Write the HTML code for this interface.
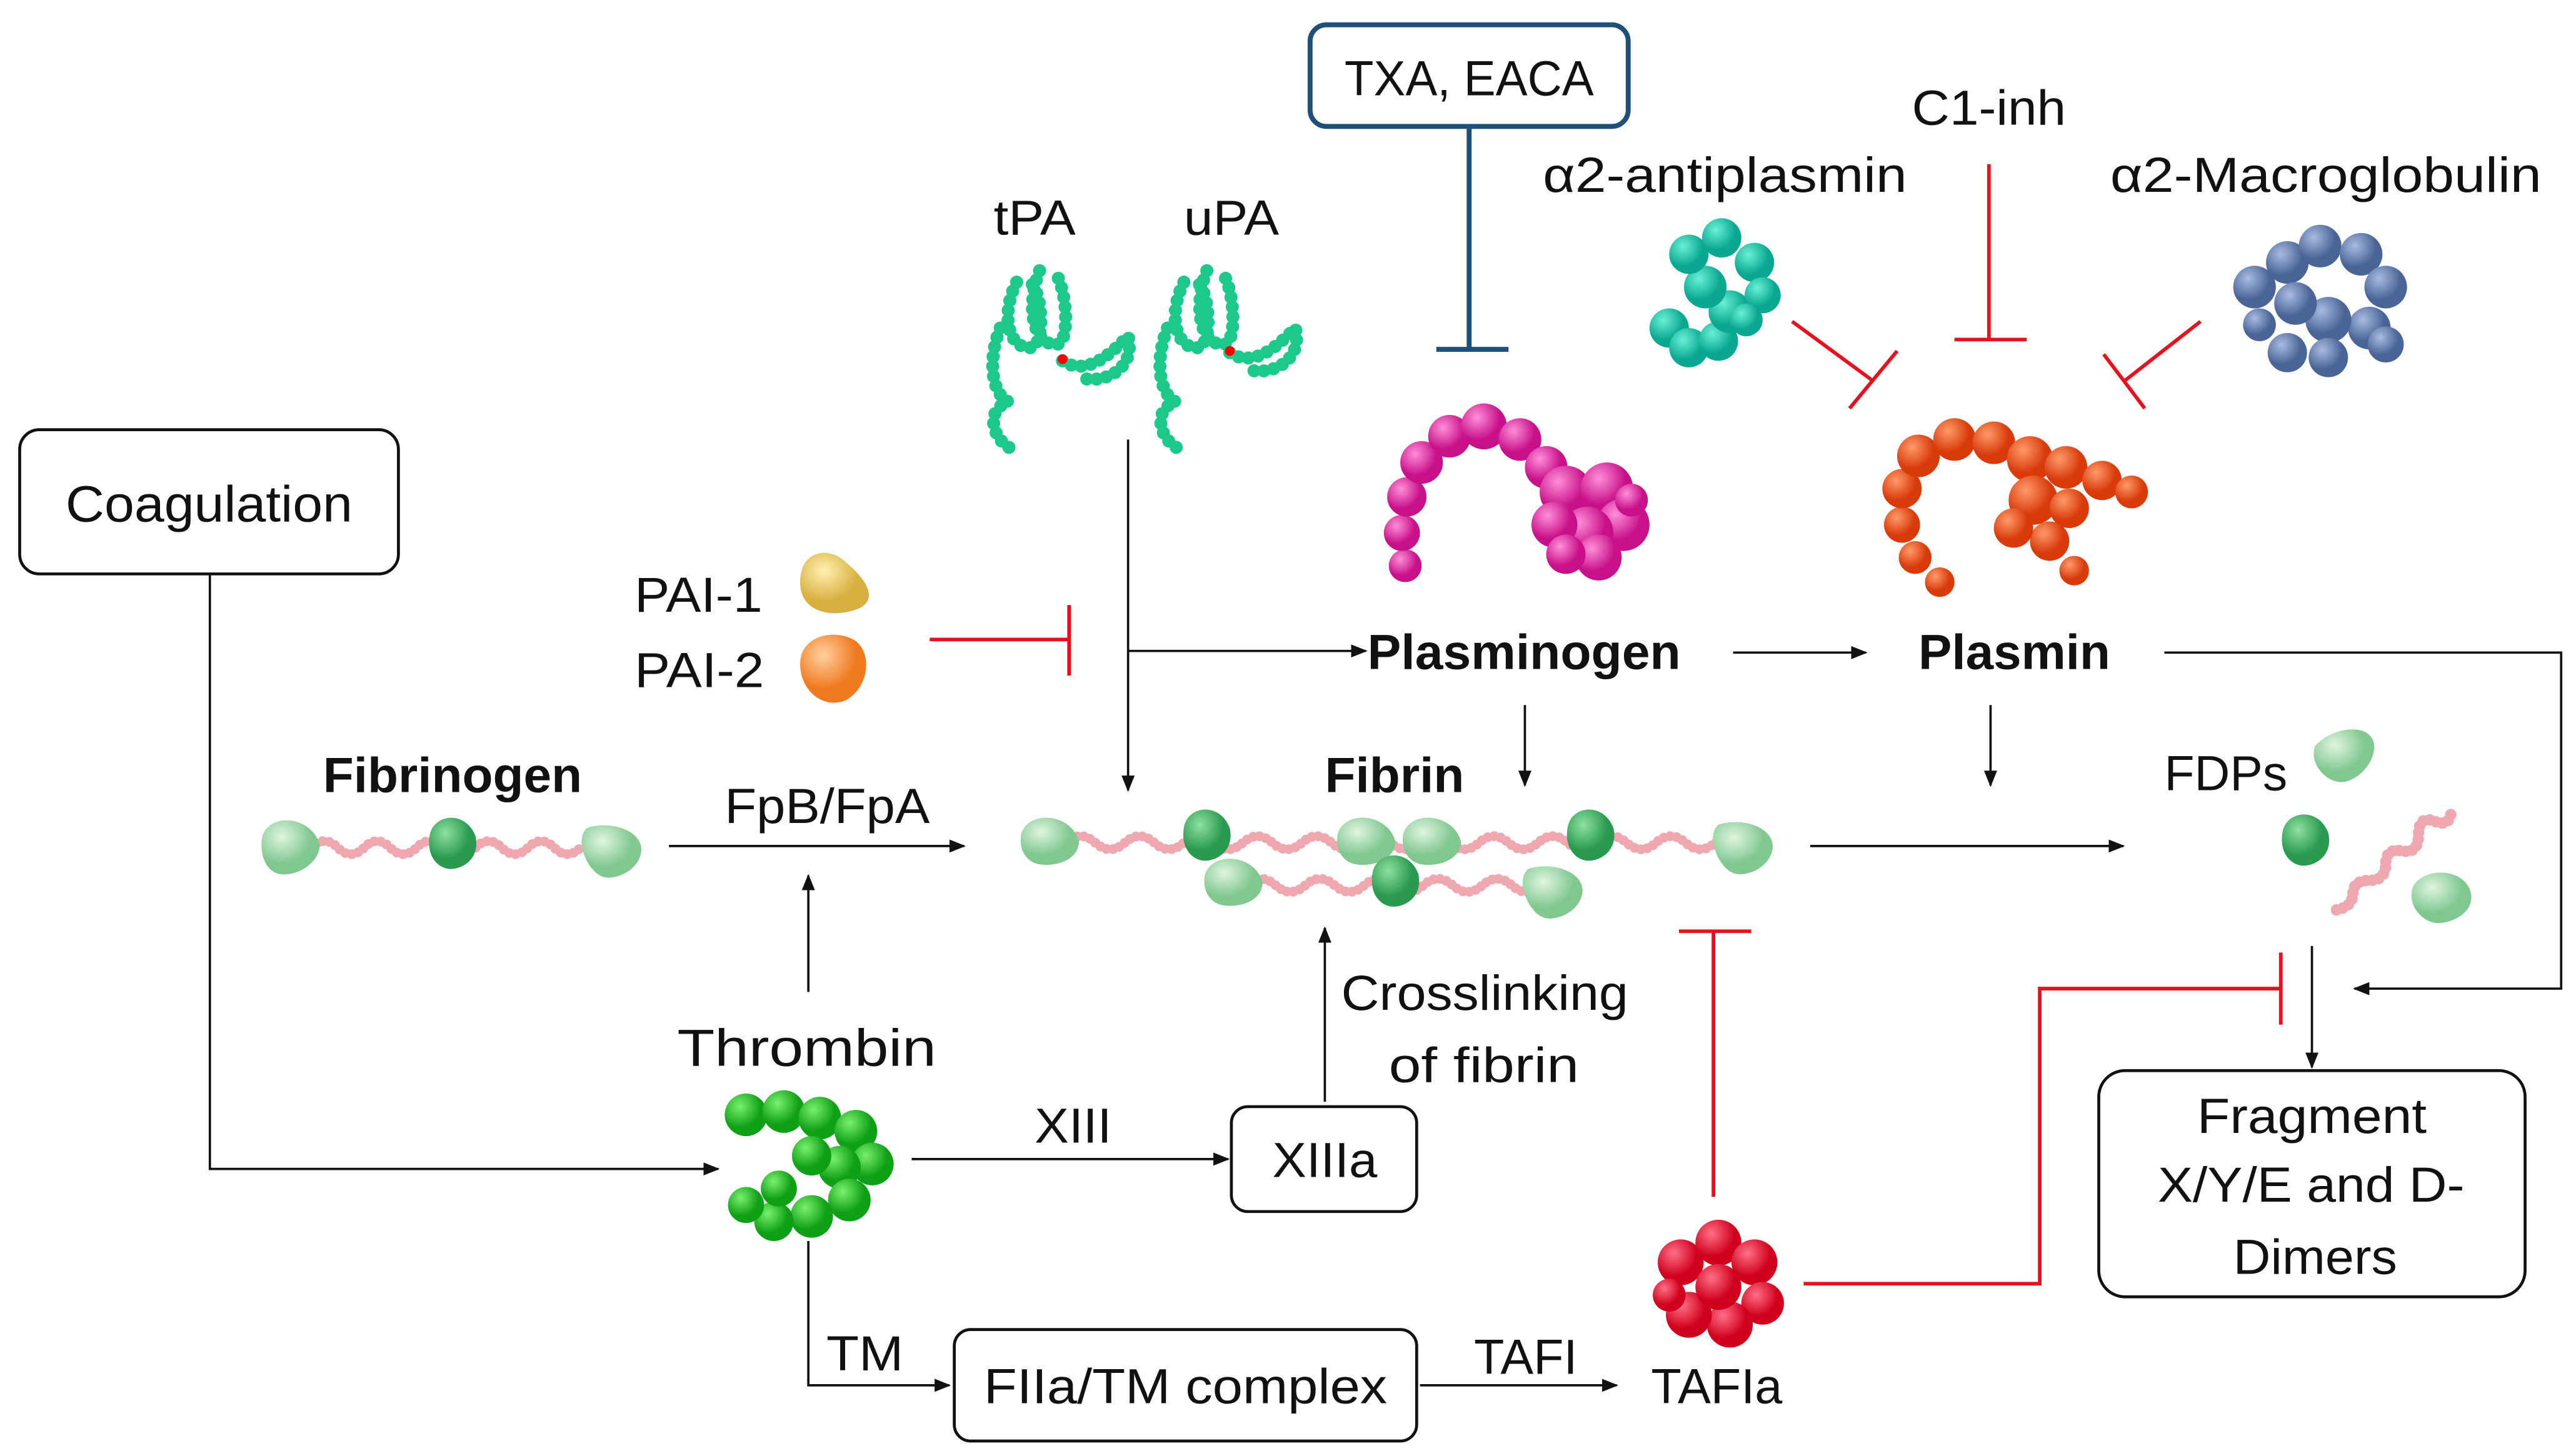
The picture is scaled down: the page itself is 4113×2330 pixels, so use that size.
<!DOCTYPE html>
<html><head><meta charset="utf-8"><style>
html,body{margin:0;padding:0;background:#fff;}
svg{display:block;}
text{font-family:"Liberation Sans",sans-serif;fill:#111;}
</style></head><body>
<svg width="4113" height="2330" viewBox="0 0 1568 888" xmlns="http://www.w3.org/2000/svg">
<defs>
<marker id="a" markerWidth="10" markerHeight="10" refX="9" refY="5" orient="auto" markerUnits="userSpaceOnUse"><path d="M0,1 L10,5 L0,9 z" fill="#111"/></marker>
<radialGradient id="gM" cx="35%" cy="30%"><stop offset="0" stop-color="#ff8fd8"/><stop offset="1" stop-color="#c8108a"/></radialGradient>
<radialGradient id="gO" cx="35%" cy="30%"><stop offset="0" stop-color="#ff9a6a"/><stop offset="1" stop-color="#d83a0a"/></radialGradient>
<radialGradient id="gT" cx="35%" cy="30%"><stop offset="0" stop-color="#6af0d8"/><stop offset="1" stop-color="#0aa890"/></radialGradient>
<radialGradient id="gB" cx="35%" cy="30%"><stop offset="0" stop-color="#a8bce0"/><stop offset="1" stop-color="#4a6498"/></radialGradient>
<radialGradient id="gG" cx="35%" cy="30%"><stop offset="0" stop-color="#7af070"/><stop offset="1" stop-color="#10a018"/></radialGradient>
<radialGradient id="gR" cx="35%" cy="30%"><stop offset="0" stop-color="#ff7088"/><stop offset="1" stop-color="#d0001c"/></radialGradient>
<radialGradient id="gL" cx="35%" cy="30%"><stop offset="0" stop-color="#e0f5e0"/><stop offset="1" stop-color="#80c890"/></radialGradient>
<radialGradient id="gD" cx="35%" cy="30%"><stop offset="0" stop-color="#8ee0a0"/><stop offset="1" stop-color="#2a9a50"/></radialGradient>
<radialGradient id="gY" cx="35%" cy="30%"><stop offset="0" stop-color="#fff0b0"/><stop offset="1" stop-color="#d8b040"/></radialGradient>
<radialGradient id="gP" cx="35%" cy="30%"><stop offset="0" stop-color="#ffd0a0"/><stop offset="1" stop-color="#f07a20"/></radialGradient>
</defs>

<g fill="none" stroke="#111" stroke-width="1.4">
<rect x="12" y="262" width="231" height="88" rx="12" stroke-width="1.8"/>
<polyline points="128,350 128,713 438,713" marker-end="url(#a)"/>
<line x1="688" y1="268" x2="688" y2="482" marker-end="url(#a)"/>
<line x1="688" y1="397" x2="833" y2="397" marker-end="url(#a)"/>
<line x1="1057" y1="398" x2="1138" y2="398" marker-end="url(#a)"/>
<polyline points="1320,398 1562,398 1562,603 1436,603" marker-end="url(#a)"/>
<line x1="930" y1="430" x2="930" y2="479" marker-end="url(#a)"/>
<line x1="1214" y1="430" x2="1214" y2="479" marker-end="url(#a)"/>
<line x1="408" y1="516" x2="588" y2="516" marker-end="url(#a)"/>
<line x1="1104" y1="516" x2="1295" y2="516" marker-end="url(#a)"/>
<line x1="1410" y1="577" x2="1410" y2="651" marker-end="url(#a)"/>
<rect x="1280" y="653" width="260" height="138" rx="16" stroke-width="1.8"/>
<line x1="493" y1="605" x2="493" y2="534" marker-end="url(#a)"/>
<line x1="556" y1="707" x2="749" y2="707" marker-end="url(#a)"/>
<rect x="751" y="675" width="113" height="64" rx="10" stroke-width="1.8"/>
<line x1="808" y1="672" x2="808" y2="566" marker-end="url(#a)"/>
<polyline points="493,757 493,845 579,845" marker-end="url(#a)"/>
<rect x="582" y="811" width="282" height="68" rx="10" stroke-width="1.8"/>
<line x1="866" y1="845" x2="986" y2="845" marker-end="url(#a)"/>
</g>

<rect x="799" y="15" width="194" height="62" rx="10" fill="none" stroke="#1f4e79" stroke-width="3"/>
<g stroke="#1f4e79" stroke-width="3"><line x1="896" y1="77" x2="896" y2="213"/><line x1="876" y1="213" x2="920" y2="213"/></g>

<g stroke="#e8101c" stroke-width="2.2" fill="none">
<line x1="1213" y1="100" x2="1213" y2="207"/><line x1="1192" y1="207" x2="1236" y2="207"/>
<line x1="1093" y1="196" x2="1142" y2="232"/><line x1="1128" y1="249" x2="1157" y2="214"/>
<line x1="1342" y1="196" x2="1296" y2="232"/><line x1="1283" y1="216" x2="1308" y2="249"/>
<line x1="567" y1="390" x2="652" y2="390"/><line x1="652" y1="369" x2="652" y2="412"/>
<line x1="1045" y1="730" x2="1045" y2="568"/><line x1="1024" y1="568" x2="1068" y2="568"/>
<polyline points="1100,783 1244,783 1244,603 1391,603"/><line x1="1391" y1="581" x2="1391" y2="625"/>
</g>

<g font-size="30" lengthAdjust="spacingAndGlyphs">
<text x="40" y="318" textLength="175" lengthAdjust="spacingAndGlyphs" font-size="31">Coagulation</text>
<text x="820" y="58" textLength="152" lengthAdjust="spacingAndGlyphs">TXA, EACA</text>
<text x="606" y="143" textLength="50" lengthAdjust="spacingAndGlyphs">tPA</text>
<text x="722" y="143" textLength="58" lengthAdjust="spacingAndGlyphs">uPA</text>
<text x="941" y="117" textLength="222" lengthAdjust="spacingAndGlyphs">α2-antiplasmin</text>
<text x="1166" y="76" textLength="94" lengthAdjust="spacingAndGlyphs">C1-inh</text>
<text x="1287" y="117" textLength="263" lengthAdjust="spacingAndGlyphs">α2-Macroglobulin</text>
<text x="387" y="373" textLength="78" lengthAdjust="spacingAndGlyphs">PAI-1</text>
<text x="387" y="419" textLength="79" lengthAdjust="spacingAndGlyphs">PAI-2</text>
<text x="834" y="408" textLength="191" lengthAdjust="spacingAndGlyphs" font-weight="bold">Plasminogen</text>
<text x="1170" y="408" textLength="117" lengthAdjust="spacingAndGlyphs" font-weight="bold">Plasmin</text>
<text x="197" y="483" textLength="158" lengthAdjust="spacingAndGlyphs" font-weight="bold">Fibrinogen</text>
<text x="808" y="483" textLength="85" lengthAdjust="spacingAndGlyphs" font-weight="bold">Fibrin</text>
<text x="442" y="502" textLength="125" lengthAdjust="spacingAndGlyphs">FpB/FpA</text>
<text x="1320" y="482" textLength="75" lengthAdjust="spacingAndGlyphs">FDPs</text>
<text x="1340" y="691" textLength="140" lengthAdjust="spacingAndGlyphs">Fragment</text>
<text x="1316" y="733" textLength="187" lengthAdjust="spacingAndGlyphs">X/Y/E and D-</text>
<text x="1362" y="777" textLength="100" lengthAdjust="spacingAndGlyphs">Dimers</text>
<text x="413" y="650" textLength="158" lengthAdjust="spacingAndGlyphs" font-size="32">Thrombin</text>
<text x="631" y="697" textLength="47" lengthAdjust="spacingAndGlyphs">XIII</text>
<text x="776" y="718" textLength="64" lengthAdjust="spacingAndGlyphs">XIIIa</text>
<text x="818" y="616" textLength="175" lengthAdjust="spacingAndGlyphs">Crosslinking</text>
<text x="847" y="660" textLength="116" lengthAdjust="spacingAndGlyphs">of fibrin</text>
<text x="504" y="836" textLength="47" lengthAdjust="spacingAndGlyphs">TM</text>
<text x="600" y="856" textLength="246" lengthAdjust="spacingAndGlyphs">FIIa/TM complex</text>
<text x="899" y="838" textLength="63" lengthAdjust="spacingAndGlyphs">TAFI</text>
<text x="1007" y="856" textLength="80" lengthAdjust="spacingAndGlyphs">TAFIa</text>
</g>

<g fill="none" stroke="#1dc98a" stroke-width="8" stroke-linecap="round" stroke-dasharray="0 6">
<path d="M620,172 c-10,20 -5,40 8,40 c10,0 8,-35 0,-40 M634,165 c-8,20 -5,45 10,45 c10,0 6,-40 -2,-45 M610,200 c-8,20 -5,40 5,45 c-15,5 -10,25 5,30 M648,220 c15,10 30,-5 40,-15 c5,20 -15,30 -30,25"/>
<path d="M722,172 c-10,20 -5,40 8,40 c10,0 8,-35 0,-40 M736,165 c-8,20 -5,45 10,45 c10,0 6,-40 -2,-45 M712,200 c-8,20 -5,40 5,45 c-15,5 -10,25 5,30 M750,215 c15,10 30,-5 40,-15 c5,20 -15,30 -30,25"/>
</g>
<circle cx="648" cy="219" r="3" fill="red"/><circle cx="750" cy="214" r="3" fill="red"/>

<path d="M488,355 c0,-20 18,-22 28,-12 c12,10 20,22 8,28 c-14,6 -36,4 -36,-16z" fill="url(#gY)"/>
<path d="M488,405 c0,-18 22,-22 34,-14 c10,8 8,28 -6,36 c-14,6 -28,-6 -28,-22z" fill="url(#gP)"/>

<g fill="url(#gM)">
<circle cx="857" cy="345" r="10"/><circle cx="855" cy="325" r="11"/><circle cx="858" cy="303" r="12"/><circle cx="867" cy="282" r="13"/><circle cx="884" cy="266" r="13"/><circle cx="905" cy="260" r="14"/><circle cx="927" cy="268" r="13"/><circle cx="943" cy="285" r="13"/>
<circle cx="955" cy="300" r="16"/><circle cx="980" cy="298" r="16"/><circle cx="990" cy="320" r="16"/><circle cx="968" cy="325" r="16"/><circle cx="948" cy="320" r="14"/><circle cx="975" cy="340" r="14"/><circle cx="955" cy="338" r="12"/><circle cx="995" cy="305" r="10"/>
</g>
<g fill="url(#gO)">
<circle cx="1183" cy="355" r="9"/><circle cx="1168" cy="340" r="10"/><circle cx="1160" cy="320" r="11"/><circle cx="1160" cy="298" r="12"/><circle cx="1170" cy="278" r="13"/><circle cx="1192" cy="268" r="13"/><circle cx="1216" cy="270" r="13"/>
<circle cx="1238" cy="280" r="14"/><circle cx="1260" cy="285" r="13"/><circle cx="1282" cy="293" r="12"/><circle cx="1300" cy="300" r="10"/><circle cx="1240" cy="305" r="15"/><circle cx="1262" cy="310" r="12"/><circle cx="1250" cy="330" r="12"/><circle cx="1265" cy="348" r="9"/><circle cx="1228" cy="322" r="12"/>
</g>
<g fill="url(#gT)">
<circle cx="1018" cy="200" r="12"/><circle cx="1030" cy="212" r="12"/><circle cx="1048" cy="208" r="12"/><circle cx="1055" cy="190" r="13"/><circle cx="1040" cy="175" r="13"/><circle cx="1030" cy="155" r="12"/><circle cx="1050" cy="145" r="12"/><circle cx="1070" cy="160" r="12"/><circle cx="1075" cy="180" r="11"/><circle cx="1065" cy="195" r="10"/>
</g>
<g fill="url(#gB)">
<circle cx="1375" cy="175" r="13"/><circle cx="1395" cy="160" r="13"/><circle cx="1415" cy="150" r="13"/><circle cx="1440" cy="155" r="13"/><circle cx="1455" cy="175" r="13"/><circle cx="1445" cy="200" r="13"/><circle cx="1420" cy="195" r="14"/><circle cx="1400" cy="185" r="13"/><circle cx="1420" cy="218" r="12"/><circle cx="1395" cy="215" r="12"/><circle cx="1455" cy="210" r="11"/><circle cx="1378" cy="198" r="10"/>
</g>
<g fill="url(#gG)">
<circle cx="455" cy="680" r="13"/><circle cx="478" cy="678" r="13"/><circle cx="500" cy="682" r="13"/><circle cx="522" cy="690" r="13"/><circle cx="532" cy="710" r="13"/><circle cx="512" cy="712" r="13"/><circle cx="495" cy="705" r="12"/><circle cx="518" cy="732" r="13"/><circle cx="495" cy="742" r="13"/><circle cx="472" cy="745" r="12"/><circle cx="455" cy="735" r="11"/><circle cx="475" cy="725" r="11"/>
</g>
<g fill="url(#gR)">
<circle cx="1025" cy="770" r="14"/><circle cx="1048" cy="758" r="14"/><circle cx="1070" cy="770" r="14"/><circle cx="1075" cy="795" r="13"/><circle cx="1055" cy="808" r="14"/><circle cx="1030" cy="802" r="14"/><circle cx="1048" cy="785" r="14"/><circle cx="1018" cy="790" r="10"/>
</g>

<g fill="none" stroke="#f0a8b0" stroke-width="6" stroke-linecap="round" stroke-dasharray="0 4">
<path d="M190,517 q8,-8 16,0 t16,0 t16,0 t16,0 t16,0 t16,0 M290,517 q8,-8 16,0 t16,0 t16,0 t16,0"/>
<path d="M650,514 q9,-8 18,0 t18,0 t18,0 t18,0 t18,0 t18,0 t18,0 t18,0 t18,0 t18,0 t18,0 t18,0 t18,0 t18,0 t18,0 t18,0 t18,0 t18,0 t18,0 t18,0 t18,0 t18,0 t18,0"/>
<path d="M760,540 q9,-8 18,0 t18,0 t18,0 t18,0 t18,0 t18,0 t18,0 t18,0 t18,0 t18,0 t18,0"/>
<path d="M1425,555 q10,-2 10,-10 t10,-8 t10,-10 t10,-8 t10,-10 t10,-8 t10,-8" stroke-width="7"/>
</g>
<g>
<path d="M160,510 c5,-15 30,-12 35,5 c0,12 -15,20 -25,18 c-8,-2 -12,-12 -10,-23z" fill="url(#gL)"/>
<path d="M262,510 c2,-14 22,-16 28,0 c3,14 -8,20 -15,20 c-8,0 -15,-8 -13,-20z" fill="url(#gD)"/>
<path d="M358,505 c15,-5 35,2 33,15 c-2,12 -18,18 -25,14 c-8,-4 -16,-22 -8,-29z" fill="url(#gL)"/>
<path d="M623,508 c5,-14 30,-12 35,5 c0,12 -15,16 -25,14 c-8,-2 -12,-10 -10,-19z" fill="url(#gL)"/>
<path d="M722,505 c2,-14 22,-16 28,0 c3,14 -8,20 -15,20 c-8,0 -15,-8 -13,-20z" fill="url(#gD)"/>
<path d="M816,508 c5,-14 30,-12 35,5 c0,12 -15,16 -25,14 c-8,-2 -12,-10 -10,-19z" fill="url(#gL)"/>
<path d="M856,508 c5,-14 30,-12 35,5 c0,12 -15,16 -25,14 c-8,-2 -12,-10 -10,-19z" fill="url(#gL)"/>
<path d="M956,505 c2,-14 22,-16 28,0 c3,14 -8,20 -15,20 c-8,0 -15,-8 -13,-20z" fill="url(#gD)"/>
<path d="M1048,503 c15,-5 35,2 33,15 c-2,12 -18,18 -25,14 c-8,-4 -16,-22 -8,-29z" fill="url(#gL)"/>
<path d="M735,533 c5,-14 30,-12 35,5 c0,12 -15,16 -25,14 c-8,-2 -12,-10 -10,-19z" fill="url(#gL)"/>
<path d="M837,533 c2,-14 22,-16 28,0 c3,14 -8,20 -15,20 c-8,0 -15,-8 -13,-20z" fill="url(#gD)"/>
<path d="M932,530 c15,-5 35,2 33,15 c-2,12 -18,18 -25,14 c-8,-4 -16,-22 -8,-29z" fill="url(#gL)"/>
<path d="M1412,455 c10,-12 35,-15 36,0 c0,12 -12,22 -20,22 c-10,0 -20,-12 -16,-22z" fill="url(#gL)"/>
<path d="M1392,508 c2,-14 22,-16 28,0 c3,14 -8,20 -15,20 c-8,0 -15,-8 -13,-20z" fill="url(#gD)"/>
<path d="M1472,540 c8,-12 32,-10 35,5 c2,12 -12,18 -20,18 c-10,0 -20,-12 -15,-23z" fill="url(#gL)"/>
</g>
</svg>
</body></html>
